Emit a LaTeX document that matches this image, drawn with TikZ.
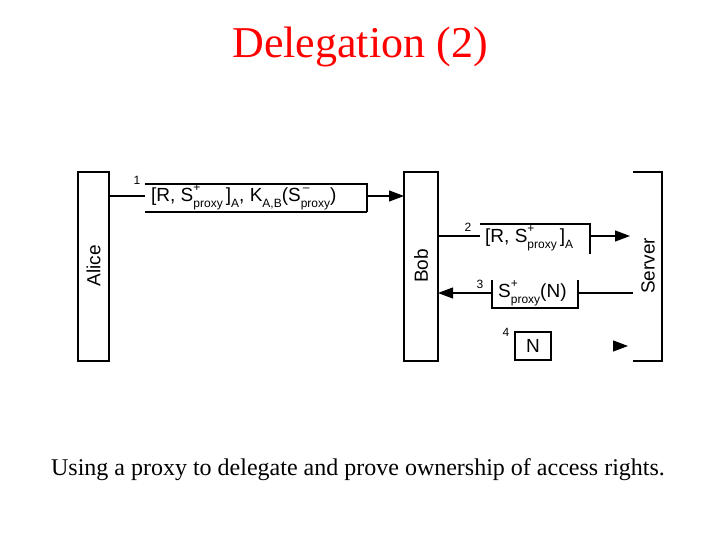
\documentclass[tikz,border=0pt]{standalone}
\usepackage{fontspec}
\setmainfont{Liberation Serif}
\newfontfamily\diag{Liberation Sans}
\usetikzlibrary{arrows.meta}
\newcommand{\supsub}[2]{\makebox[0pt][l]{\raisebox{0.55em}{\fontsize{12}{12}\selectfont#1}}\raisebox{-0.3em}{\fontsize{12}{12}\selectfont#2}}
\newcommand{\lowsub}[1]{\raisebox{-0.3em}{\fontsize{12}{12}\selectfont#1}}
\begin{document}
\begin{tikzpicture}[x=1pt,y=-1pt,
  lbl/.style={font=\diag\fontsize{19}{19}\selectfont,inner sep=0pt},
  num/.style={font=\diag\fontsize{12}{12}\selectfont,inner sep=0pt},
  msg/.style={-{Triangle[length=15pt,width=11pt]}},
  ln/.style={line width=1.1pt}]
\useasboundingbox (0,0) rectangle (720,540);
\node[font=\fontsize{44}{44}\selectfont,text=red] (title) at (360,47) {Delegation (2)};
\node[font=\fontsize{24}{24}\selectfont] (cap) at (358,470) {Using a proxy to delegate and prove ownership of access rights.};
% parties
\draw[ln] (78,172) rectangle (109,361);
\node[lbl,rotate=90] (alice) at (93.5,266) {Alice};
\draw[ln] (404,172) rectangle (438,361);
\node[lbl,rotate=90] (bob) at (421,266) {Bob};
\draw[ln] (633,172) -- (662,172) -- (662,361) -- (633,361);
\node[lbl,rotate=90] (server) at (648,266) {Server};
% message 1
\node[lbl,anchor=west] (m1) at (151,197) {[R, S\supsub{+}{proxy}\,]\lowsub{A}, K\lowsub{A,B}(S\supsub{\,\textendash}{proxy})};
\node[num] (n1) at (137,180) {1};
\draw[ln] (145,184) -- (367,184) -- (367,212) (145,212) -- (367,212);
\draw[ln] (109,196) -- (145,196);
\draw[ln,msg] (367,196) -- (404,196);
% message 2
\node[lbl,anchor=west] (m2) at (485,238) {[R, S\supsub{+}{proxy}\,]\lowsub{A}};
\node[num] (n2) at (468,227) {2};
\draw[ln] (480,224) -- (590,224) -- (590,254);
\draw[ln] (438,236) -- (480,236);
\draw[ln,msg] (590,236) -- (630,236);
% message 3
\node[lbl,anchor=west] (m3) at (498,293) {S\supsub{+}{proxy}(N)};
\node[num] (n3) at (480,284) {3};
\draw[ln] (492,280) -- (492,308) -- (578,308) -- (578,280);
\draw[ln] (578,293) -- (633,293);
\draw[ln,msg] (492,293) -- (438,293);
% message 4
\node[lbl,draw,line width=1.1pt,minimum width=36pt,minimum height=28pt] (m4) at (533,346) {N};
\node[num] (n4) at (506,332) {4};
\draw[ln,msg] (613,346) -- (628,346);
\end{tikzpicture}
\end{document}
